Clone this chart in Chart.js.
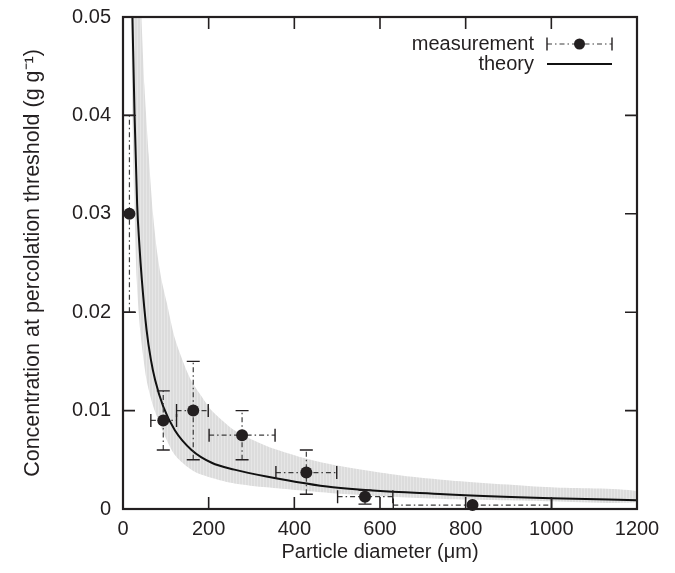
<!DOCTYPE html>
<html>
<head>
<meta charset="utf-8">
<script src="https://cdn.jsdelivr.net/npm/chart.js@4"></script>
<style>
  html, body { margin: 0; background: #fff; }
</style>
</head>
<body>
<canvas id="c" width="675" height="573"></canvas>
<script>
// ── Data ─────────────────────────────────────────────
// measurements: particle diameter (um) vs concentration (g/g)
const measX   = [15, 94, 164, 278, 428, 565, 816];
const measY   = [0.030, 0.009, 0.010, 0.0075, 0.0037, 0.00125, 0.0004];
const measXLo = [15, 65, 125, 201, 357, 501, 631];
const measXHi = [15, 125, 199, 355, 499, 630, 1001];
const measYLo = [0.020, 0.006, 0.005, 0.005, 0.0015, 0.0005, 0.0004];
const measYHi = [0.040, 0.012, 0.015, 0.010, 0.006, 0.0019, 0.0004];

// theory curve
const theoryX = [22, 27, 33, 38, 44, 55, 65, 75, 94, 121, 160, 207, 260, 335, 490, 750, 1000, 1200];
const theoryY = [0.050, 0.040, 0.031, 0.027, 0.0233, 0.0182, 0.0152, 0.0131, 0.0104, 0.0080, 0.0060,
                 0.0047, 0.0040, 0.0033, 0.0022, 0.0015, 0.0011, 0.0009];

// grey uncertainty band (upper / lower edge)
const bandUpX = [43, 50, 60, 70, 80, 90, 102, 120, 140, 160, 184, 207, 260, 335, 420, 490, 650, 764, 1000, 1200];
const bandUpY = [0.050, 0.043, 0.036, 0.030, 0.026, 0.0233, 0.0210, 0.0175, 0.0150, 0.0130, 0.0114,
                 0.0100, 0.0080, 0.0064, 0.0052, 0.0045, 0.0034, 0.0029, 0.0022, 0.0018];
const bandLoX = [19, 22, 26, 32, 40, 55, 70, 83, 100, 121, 150, 176, 220, 260, 335, 490, 650, 764, 1000, 1200];
const bandLoY = [0.050, 0.040, 0.032, 0.0233, 0.0182, 0.0131, 0.0105, 0.0090, 0.0072, 0.0055, 0.0043,
                 0.0036, 0.0030, 0.0026, 0.0022, 0.0016, 0.0012, 0.0010, 0.0008, 0.0007];

// axes
const xTickValues = [0, 200, 400, 600, 800, 1000, 1200];
const xTickLabels = ['0', '200', '400', '600', '800', '1000', '1200'];
const yTickValues = [0, 0.01, 0.02, 0.03, 0.04, 0.05];
const yTickLabels = ['0', '0.01', '0.02', '0.03', '0.04', '0.05'];

// ── Styles ───────────────────────────────────────────
const INK  = '#231f20';
const FAMILY = '"Liberation Sans", Arial, Helvetica, sans-serif';
const FONT = { family: FAMILY, size: 20 };
const TICK = 12;
const CAP  = 6.5;
const DASHDOT = [5, 3, 1.5, 3];

const canvas = document.getElementById('c');
const ctx0   = canvas.getContext('2d');

// striped light grey fill like the original band
function stripePattern() {
  const pc = document.createElement('canvas');
  pc.width = 3; pc.height = 4;
  const g = pc.getContext('2d');
  g.fillStyle = '#dcdcdc'; g.fillRect(0, 0, 3, 4);
  g.fillStyle = '#e6e6e6'; g.fillRect(2, 0, 1, 4);
  return ctx0.createPattern(pc, 'repeat');
}

const pts = (xs, ys) => xs.map((x, i) => ({ x, y: ys[i] }));
const bandShape = pts(bandUpX, bandUpY).concat(pts(bandLoX, bandLoY).reverse());

// ── Error bars (drawn after the theory line, before markers) ──
const errorBars = {
  id: 'errorBars',
  afterDatasetDraw(chart, args) {
    if (args.index !== 1) return;
    const { ctx, chartArea: a, scales: { x, y } } = chart;
    ctx.save();
    ctx.beginPath();
    ctx.rect(a.left, a.top, a.right - a.left, a.bottom - a.top);
    ctx.clip();
    measX.forEach((mx, i) => {
      const px = x.getPixelForValue(mx), py = y.getPixelForValue(measY[i]);
      const x1 = x.getPixelForValue(measXLo[i]), x2 = x.getPixelForValue(measXHi[i]);
      const y1 = y.getPixelForValue(measYLo[i]), y2 = y.getPixelForValue(measYHi[i]);
      // dash-dot bodies
      ctx.setLineDash(DASHDOT);
      ctx.strokeStyle = '#3c3c3c';
      ctx.lineWidth = 1.2;
      ctx.beginPath();
      if (x2 - x1 > 1) { ctx.moveTo(x1, py); ctx.lineTo(x2, py); }
      if (y1 - y2 > 1) { ctx.moveTo(px, y1); ctx.lineTo(px, y2); }
      ctx.stroke();
      // solid caps
      ctx.setLineDash([]);
      ctx.strokeStyle = INK;
      ctx.lineWidth = 1.4;
      ctx.beginPath();
      if (x2 - x1 > 1) {
        ctx.moveTo(x1, py - CAP); ctx.lineTo(x1, py + CAP);
        ctx.moveTo(x2, py - CAP); ctx.lineTo(x2, py + CAP);
      }
      if (y1 - y2 > 1) {
        ctx.moveTo(px - CAP, y1); ctx.lineTo(px + CAP, y1);
        ctx.moveTo(px - CAP, y2); ctx.lineTo(px + CAP, y2);
      }
      ctx.stroke();
    });
    ctx.restore();
  }
};

// ── Frame, inward ticks on all sides, key ───────────
const frameAndKey = {
  id: 'frameAndKey',
  afterDraw(chart) {
    const { ctx, chartArea: a, scales: { x, y } } = chart;
    ctx.save();
    ctx.strokeStyle = INK;
    ctx.lineWidth = 1.6;
    ctx.beginPath();
    xTickValues.forEach(v => {
      const px = x.getPixelForValue(v);
      ctx.moveTo(px, a.bottom); ctx.lineTo(px, a.bottom - TICK);
      ctx.moveTo(px, a.top);    ctx.lineTo(px, a.top + TICK);
    });
    yTickValues.forEach(v => {
      const py = y.getPixelForValue(v);
      ctx.moveTo(a.left, py);  ctx.lineTo(a.left + TICK, py);
      ctx.moveTo(a.right, py); ctx.lineTo(a.right - TICK, py);
    });
    ctx.stroke();
    ctx.lineWidth = 2.2;
    ctx.strokeRect(a.left, a.top, a.right - a.left, a.bottom - a.top);

    // key, top right inside the frame
    const textRight = a.right - 103, s1 = a.right - 90, s2 = a.right - 25;
    const row1 = a.top + 27, row2 = a.top + 47;
    ctx.font = `${FONT.size}px ${FONT.family}`;
    ctx.fillStyle = INK;
    ctx.textAlign = 'right';
    ctx.textBaseline = 'middle';
    ctx.fillText('measurement', textRight, row1);
    ctx.fillText('theory', textRight, row2);

    ctx.setLineDash(DASHDOT);
    ctx.strokeStyle = '#3c3c3c';
    ctx.lineWidth = 1.2;
    ctx.beginPath(); ctx.moveTo(s1, row1); ctx.lineTo(s2, row1); ctx.stroke();
    ctx.setLineDash([]);
    ctx.strokeStyle = INK;
    ctx.lineWidth = 1.4;
    ctx.beginPath();
    ctx.moveTo(s1, row1 - CAP); ctx.lineTo(s1, row1 + CAP);
    ctx.moveTo(s2, row1 - CAP); ctx.lineTo(s2, row1 + CAP);
    ctx.stroke();
    ctx.beginPath(); ctx.arc((s1 + s2) / 2, row1, 5.5, 0, Math.PI * 2); ctx.fill();

    ctx.strokeStyle = '#111';
    ctx.lineWidth = 2;
    ctx.beginPath(); ctx.moveTo(s1, row2); ctx.lineTo(s2, row2); ctx.stroke();
    ctx.restore();
  }
};

new Chart(ctx0, {
  type: 'line',
  data: {
    datasets: [
      {
        label: 'measurement',
        data: pts(measX, measY),
        showLine: false,
        pointRadius: 6,
        pointHoverRadius: 6,
        pointBackgroundColor: INK,
        pointBorderWidth: 0,
        clip: false,
        order: 0,
      },
      {
        label: 'theory',
        data: pts(theoryX, theoryY),
        borderColor: '#111',
        borderWidth: 2,
        pointRadius: 0,
        fill: false,
        cubicInterpolationMode: 'monotone',
        order: 1,
      },
      {
        label: 'band',
        data: bandShape,
        borderWidth: 0,
        borderColor: 'rgba(0,0,0,0)',
        backgroundColor: stripePattern(),
        pointRadius: 0,
        fill: 'shape',
        tension: 0.25,
        order: 2,
      },
    ],
  },
  options: {
    responsive: false,
    animation: false,
    layout: { padding: { top: 17, right: 38, left: 0, bottom: 0 } },
    plugins: {
      legend: { display: false },
      tooltip: { enabled: false },
    },
    scales: {
      x: {
        type: 'linear',
        min: 0,
        max: 1200,
        afterFit: s => { s.height = 64; },
        afterBuildTicks: s => { s.ticks = xTickValues.map(v => ({ value: v })); },
        grid: { display: false, drawTicks: false },
        border: { display: false },
        ticks: {
          color: INK,
          font: FONT,
          padding: 8,
          maxRotation: 0,
          callback: (v, i) => xTickLabels[i],
        },
        title: {
          display: true,
          text: 'Particle diameter (\u03bcm)',
          color: INK,
          font: FONT,
          padding: { top: 0, bottom: 9 },
        },
      },
      y: {
        type: 'linear',
        min: 0,
        max: 0.05,
        afterFit: s => { s.width = 123; s.paddingTop = 0; s.paddingBottom = 0; },
        afterBuildTicks: s => { s.ticks = yTickValues.map(v => ({ value: v })); },
        grid: { display: false, drawTicks: false },
        border: { display: false },
        ticks: {
          color: INK,
          font: FONT,
          padding: 12,
          callback: (v, i) => yTickLabels[i],
        },
        title: {
          display: true,
          text: 'Concentration at percolation threshold (g g\u207b\u00b9)',
          color: INK,
          font: { family: FAMILY, size: 21.5 },
          padding: { top: 20, bottom: 0 },
        },
      },
    },
  },
  plugins: [errorBars, frameAndKey],
});
</script>
</body>
</html>
